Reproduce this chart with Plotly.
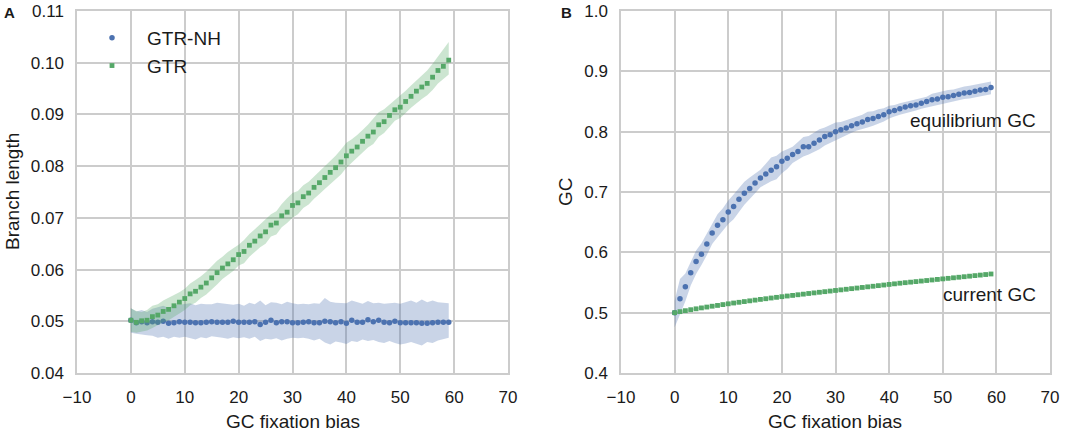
import plotly.graph_objects as go

# GC fixation bias values (shared by both panels)
bias = list(range(60))

# Panel A: branch length estimates
nh_mean = [0.0502, 0.0497, 0.0499, 0.0497, 0.0499, 0.0498, 0.0500, 0.0496, 0.0497, 0.0499,
           0.0498, 0.0498, 0.0497, 0.0497, 0.0498, 0.0499, 0.0498, 0.0498, 0.0498, 0.0500,
           0.0498, 0.0498, 0.0498, 0.0499, 0.0494, 0.0498, 0.0502, 0.0497, 0.0499, 0.0499,
           0.0497, 0.0497, 0.0498, 0.0499, 0.0497, 0.0497, 0.0500, 0.0499, 0.0497, 0.0499,
           0.0496, 0.0502, 0.0498, 0.0498, 0.0503, 0.0499, 0.0502, 0.0498, 0.0497, 0.0500,
           0.0497, 0.0497, 0.0497, 0.0497, 0.0496, 0.0496, 0.0497, 0.0498, 0.0498, 0.0498]
nh_hi = [0.0525, 0.0519, 0.0522, 0.0518, 0.0524, 0.0527, 0.0530, 0.0526, 0.0531, 0.0532,
         0.0533, 0.0535, 0.0531, 0.0534, 0.0533, 0.0533, 0.0536, 0.0535, 0.0534, 0.0532,
         0.0534, 0.0530, 0.0536, 0.0533, 0.0540, 0.0531, 0.0537, 0.0536, 0.0533, 0.0538,
         0.0535, 0.0533, 0.0534, 0.0533, 0.0535, 0.0534, 0.0545, 0.0538, 0.0536, 0.0535,
         0.0535, 0.0540, 0.0537, 0.0534, 0.0539, 0.0535, 0.0536, 0.0534, 0.0535, 0.0536,
         0.0534, 0.0537, 0.0540, 0.0536, 0.0542, 0.0537, 0.0540, 0.0537, 0.0536, 0.0535]
nh_lo = [0.0478, 0.0476, 0.0474, 0.0473, 0.0472, 0.0468, 0.0470, 0.0466, 0.0470, 0.0468,
         0.0470, 0.0467, 0.0465, 0.0469, 0.0467, 0.0471, 0.0470, 0.0468, 0.0466, 0.0469,
         0.0467, 0.0469, 0.0466, 0.0470, 0.0462, 0.0466, 0.0465, 0.0467, 0.0463, 0.0466,
         0.0468, 0.0467, 0.0468, 0.0466, 0.0463, 0.0466, 0.0459, 0.0455, 0.0461, 0.0459,
         0.0456, 0.0462, 0.0460, 0.0465, 0.0462, 0.0464, 0.0460, 0.0458, 0.0462, 0.0458,
         0.0455, 0.0457, 0.0460, 0.0456, 0.0453, 0.0460, 0.0458, 0.0463, 0.0466, 0.0468]

gtr_mean = [0.0502, 0.0498, 0.0501, 0.0502, 0.0509, 0.0512, 0.0519, 0.0523, 0.0530, 0.0537,
            0.0544, 0.0553, 0.0558, 0.0566, 0.0574, 0.0584, 0.0594, 0.0603, 0.0611, 0.0619,
            0.0629, 0.0635, 0.0647, 0.0655, 0.0665, 0.0673, 0.0686, 0.0690, 0.0704, 0.0711,
            0.0724, 0.0729, 0.0741, 0.0748, 0.0759, 0.0768, 0.0778, 0.0788, 0.0797, 0.0808,
            0.0820, 0.0829, 0.0837, 0.0848, 0.0858, 0.0866, 0.0880, 0.0886, 0.0898, 0.0909,
            0.0914, 0.0925, 0.0935, 0.0945, 0.0953, 0.0960, 0.0972, 0.0985, 0.0993, 0.1005]
gtr_hi = [0.0525, 0.0520, 0.0518, 0.0522, 0.0530, 0.0533, 0.0540, 0.0545, 0.0551, 0.0556,
          0.0563, 0.0573, 0.0580, 0.0587, 0.0596, 0.0607, 0.0617, 0.0625, 0.0634, 0.0641,
          0.0648, 0.0657, 0.0669, 0.0678, 0.0688, 0.0696, 0.0707, 0.0713, 0.0727, 0.0738,
          0.0748, 0.0752, 0.0763, 0.0770, 0.0780, 0.0789, 0.0799, 0.0810, 0.0820, 0.0832,
          0.0845, 0.0852, 0.0860, 0.0870, 0.0880, 0.0892, 0.0904, 0.0910, 0.0919, 0.0928,
          0.0936, 0.0946, 0.0956, 0.0966, 0.0975, 0.0985, 0.0998, 0.1012, 0.1025, 0.1040]
gtr_lo = [0.0480, 0.0478, 0.0480, 0.0482, 0.0487, 0.0492, 0.0498, 0.0502, 0.0508, 0.0515,
          0.0522, 0.0531, 0.0536, 0.0545, 0.0552, 0.0561, 0.0571, 0.0582, 0.0589, 0.0597,
          0.0608, 0.0612, 0.0625, 0.0634, 0.0643, 0.0650, 0.0664, 0.0668, 0.0682, 0.0690,
          0.0700, 0.0707, 0.0719, 0.0726, 0.0737, 0.0746, 0.0756, 0.0766, 0.0775, 0.0784,
          0.0797, 0.0806, 0.0815, 0.0826, 0.0836, 0.0843, 0.0857, 0.0864, 0.0876, 0.0888,
          0.0893, 0.0903, 0.0913, 0.0922, 0.0930, 0.0937, 0.0947, 0.0960, 0.0968, 0.0977]

# Panel B: GC content
eq_gc = [0.500, 0.523, 0.543, 0.566, 0.585, 0.597, 0.614, 0.632, 0.645, 0.654,
         0.667, 0.676, 0.688, 0.698, 0.706, 0.715, 0.723, 0.730, 0.736, 0.742,
         0.751, 0.756, 0.762, 0.767, 0.775, 0.775, 0.781, 0.786, 0.792, 0.795,
         0.800, 0.803, 0.806, 0.810, 0.813, 0.816, 0.820, 0.822, 0.825, 0.828,
         0.833, 0.835, 0.838, 0.841, 0.843, 0.844, 0.847, 0.850, 0.853, 0.854,
         0.857, 0.858, 0.860, 0.862, 0.864, 0.865, 0.867, 0.869, 0.870, 0.873]
eq_hi = [0.520, 0.556, 0.565, 0.584, 0.603, 0.615, 0.631, 0.648, 0.663, 0.673,
         0.686, 0.696, 0.707, 0.717, 0.724, 0.730, 0.737, 0.747, 0.757, 0.760,
         0.767, 0.771, 0.775, 0.783, 0.791, 0.793, 0.798, 0.804, 0.807, 0.811,
         0.815, 0.816, 0.819, 0.821, 0.825, 0.828, 0.833, 0.834, 0.837, 0.839,
         0.843, 0.844, 0.847, 0.849, 0.852, 0.853, 0.855, 0.858, 0.863, 0.865,
         0.868, 0.869, 0.870, 0.873, 0.875, 0.876, 0.878, 0.880, 0.881, 0.883]
eq_lo = [0.476, 0.497, 0.519, 0.545, 0.564, 0.579, 0.595, 0.614, 0.625, 0.635,
         0.647, 0.655, 0.667, 0.679, 0.688, 0.698, 0.708, 0.713, 0.718, 0.721,
         0.731, 0.738, 0.748, 0.753, 0.759, 0.762, 0.766, 0.771, 0.777, 0.781,
         0.785, 0.789, 0.794, 0.798, 0.802, 0.805, 0.807, 0.810, 0.813, 0.817,
         0.822, 0.825, 0.828, 0.831, 0.833, 0.835, 0.838, 0.841, 0.843, 0.844,
         0.846, 0.848, 0.850, 0.852, 0.854, 0.855, 0.857, 0.858, 0.860, 0.862]

cur_gc = [0.5000, 0.5017, 0.5033, 0.5049, 0.5064, 0.5079, 0.5093, 0.5107, 0.5120, 0.5134,
          0.5147, 0.5160, 0.5172, 0.5184, 0.5196, 0.5208, 0.5220, 0.5231, 0.5243, 0.5254,
          0.5265, 0.5276, 0.5286, 0.5297, 0.5307, 0.5318, 0.5328, 0.5338, 0.5348, 0.5358,
          0.5368, 0.5378, 0.5388, 0.5398, 0.5408, 0.5418, 0.5428, 0.5438, 0.5448, 0.5458,
          0.5468, 0.5478, 0.5488, 0.5497, 0.5506, 0.5515, 0.5524, 0.5533, 0.5542, 0.5551,
          0.5560, 0.5569, 0.5578, 0.5587, 0.5596, 0.5605, 0.5614, 0.5623, 0.5632, 0.5641]
cur_hi = [0.5015, 0.5032, 0.5048, 0.5064, 0.5079, 0.5094, 0.5108, 0.5122, 0.5135, 0.5149,
          0.5162, 0.5175, 0.5187, 0.5199, 0.5211, 0.5223, 0.5235, 0.5246, 0.5258, 0.5269,
          0.5280, 0.5291, 0.5301, 0.5312, 0.5322, 0.5333, 0.5343, 0.5353, 0.5363, 0.5373,
          0.5383, 0.5393, 0.5403, 0.5413, 0.5423, 0.5433, 0.5443, 0.5453, 0.5463, 0.5473,
          0.5483, 0.5493, 0.5503, 0.5512, 0.5521, 0.5530, 0.5539, 0.5548, 0.5557, 0.5566,
          0.5575, 0.5584, 0.5593, 0.5602, 0.5611, 0.5620, 0.5629, 0.5638, 0.5647, 0.5656]
cur_lo = [0.4985, 0.5002, 0.5018, 0.5034, 0.5049, 0.5064, 0.5078, 0.5092, 0.5105, 0.5119,
          0.5132, 0.5145, 0.5157, 0.5169, 0.5181, 0.5193, 0.5205, 0.5216, 0.5228, 0.5239,
          0.5250, 0.5261, 0.5271, 0.5282, 0.5292, 0.5303, 0.5313, 0.5323, 0.5333, 0.5343,
          0.5353, 0.5363, 0.5373, 0.5383, 0.5393, 0.5403, 0.5413, 0.5423, 0.5433, 0.5443,
          0.5453, 0.5463, 0.5473, 0.5482, 0.5491, 0.5500, 0.5509, 0.5518, 0.5527, 0.5536,
          0.5545, 0.5554, 0.5563, 0.5572, 0.5581, 0.5590, 0.5599, 0.5608, 0.5617, 0.5626]

x_ticks = [-10, 0, 10, 20, 30, 40, 50, 60, 70]

BLUE = '#4C72B0'
GREEN = '#55A868'
BLUE_FILL = 'rgba(76,114,176,0.3)'
GREEN_FILL = 'rgba(85,168,104,0.3)'
GRID = '#cccccc'
FONT = 'Liberation Sans, Arial, sans-serif'
TEXT = '#1a1a1a'


def band(lo, hi, fill, xaxis, yaxis):
    """Shaded area between lo and hi"""
    return go.Scatter(
        x=bias + bias[::-1],
        y=hi + lo[::-1],
        fill='toself',
        fillcolor=fill,
        line={'width': 0},
        mode='lines',
        hoverinfo='skip',
        showlegend=False,
        xaxis=xaxis,
        yaxis=yaxis,
    )


def points(y, name, color, symbol, size, xaxis, yaxis, showlegend):
    return go.Scatter(
        x=bias,
        y=y,
        mode='markers',
        name=name,
        legendgroup=name,
        marker={'color': color, 'symbol': symbol, 'size': size,
                'line': {'width': 0}},
        showlegend=showlegend,
        xaxis=xaxis,
        yaxis=yaxis,
    )


fig = go.Figure()

# Panel A
fig.add_trace(band(nh_lo, nh_hi, BLUE_FILL, 'x', 'y'))
fig.add_trace(points(nh_mean, 'GTR-NH', BLUE, 'circle', 5.5, 'x', 'y', True))
fig.add_trace(band(gtr_lo, gtr_hi, GREEN_FILL, 'x', 'y'))
fig.add_trace(points(gtr_mean, 'GTR', GREEN, 'square', 4.8, 'x', 'y', True))

# Panel B
fig.add_trace(band(eq_lo, eq_hi, BLUE_FILL, 'x2', 'y2'))
fig.add_trace(points(eq_gc, 'equilibrium GC', BLUE, 'circle', 5.5, 'x2', 'y2', False))
fig.add_trace(band(cur_lo, cur_hi, GREEN_FILL, 'x2', 'y2'))
fig.add_trace(points(cur_gc, 'current GC', GREEN, 'square', 4.8, 'x2', 'y2', False))

axis_style = dict(
    showgrid=True, gridcolor=GRID, gridwidth=1.5,
    showline=True, linecolor=GRID, linewidth=1.5, mirror=True,
    zeroline=False, ticks='', ticklabelstandoff=8,
    tickfont={'size': 17, 'color': TEXT, 'family': FONT},
    automargin=False,
)

y_dom = [1 - 373 / 432, 1 - 11 / 432]

fig.update_layout(
    width=1084,
    height=432,
    margin={'l': 0, 'r': 0, 't': 0, 'b': 0},
    paper_bgcolor='white',
    plot_bgcolor='white',
    font={'family': FONT, 'color': TEXT, 'size': 19},
    xaxis=dict(axis_style, domain=[77 / 1084, 508 / 1084], range=[-10, 70],
               tickvals=x_ticks, anchor='y'),
    yaxis=dict(axis_style, domain=y_dom, range=[0.04, 0.11], dtick=0.01,
               tick0=0.04, tickformat='.2f', anchor='x'),
    xaxis2=dict(axis_style, domain=[621 / 1084, 1050 / 1084], range=[-10, 70],
                tickvals=x_ticks, anchor='y2'),
    yaxis2=dict(axis_style, domain=y_dom, range=[0.4, 1.0], dtick=0.1,
                tick0=0.4, tickformat='.1f', anchor='x2'),
    legend=dict(
        x=77 / 1084, y=1 - 19 / 432, xanchor='left', yanchor='top',
        bgcolor='rgba(0,0,0,0)', itemwidth=60, tracegroupgap=0,
        traceorder='grouped',
        font={'size': 19, 'color': TEXT, 'family': FONT},
    ),
    showlegend=True,
)

annotations = [
    # panel letters
    dict(text='<b>A</b>', x=9 / 1084, y=1 - 12 / 432, xref='paper', yref='paper',
         showarrow=False, font={'size': 15}, xanchor='center', yanchor='middle'),
    dict(text='<b>B</b>', x=566 / 1084, y=1 - 12 / 432, xref='paper', yref='paper',
         showarrow=False, font={'size': 15}, xanchor='center', yanchor='middle'),
    # axis titles
    dict(text='GC fixation bias', x=293 / 1084, y=1 - 421 / 432, xref='paper',
         yref='paper', showarrow=False, xanchor='center', yanchor='middle'),
    dict(text='GC fixation bias', x=835 / 1084, y=1 - 421 / 432, xref='paper',
         yref='paper', showarrow=False, xanchor='center', yanchor='middle'),
    dict(text='Branch length', x=12 / 1084, y=(y_dom[0] + y_dom[1]) / 2,
         xref='paper', yref='paper', showarrow=False, textangle=-90,
         xanchor='center', yanchor='middle'),
    dict(text='GC', x=565 / 1084, y=(y_dom[0] + y_dom[1]) / 2,
         xref='paper', yref='paper', showarrow=False, textangle=-90,
         xanchor='center', yanchor='middle'),
    # series labels in panel B
    dict(text='equilibrium GC', x=67.7, y=0.819, xref='x2', yref='y2',
         showarrow=False, xanchor='right', yanchor='middle'),
    dict(text='current GC', x=67.7, y=0.530, xref='x2', yref='y2',
         showarrow=False, xanchor='right', yanchor='middle'),
]
fig.update_layout(annotations=annotations)

# the page body has an 8px default margin; drop it so the figure fills the window
fig.write_html(
    "out.html",
    config={'displayModeBar': False},
    post_script="document.body.style.margin = '0px';",
)
